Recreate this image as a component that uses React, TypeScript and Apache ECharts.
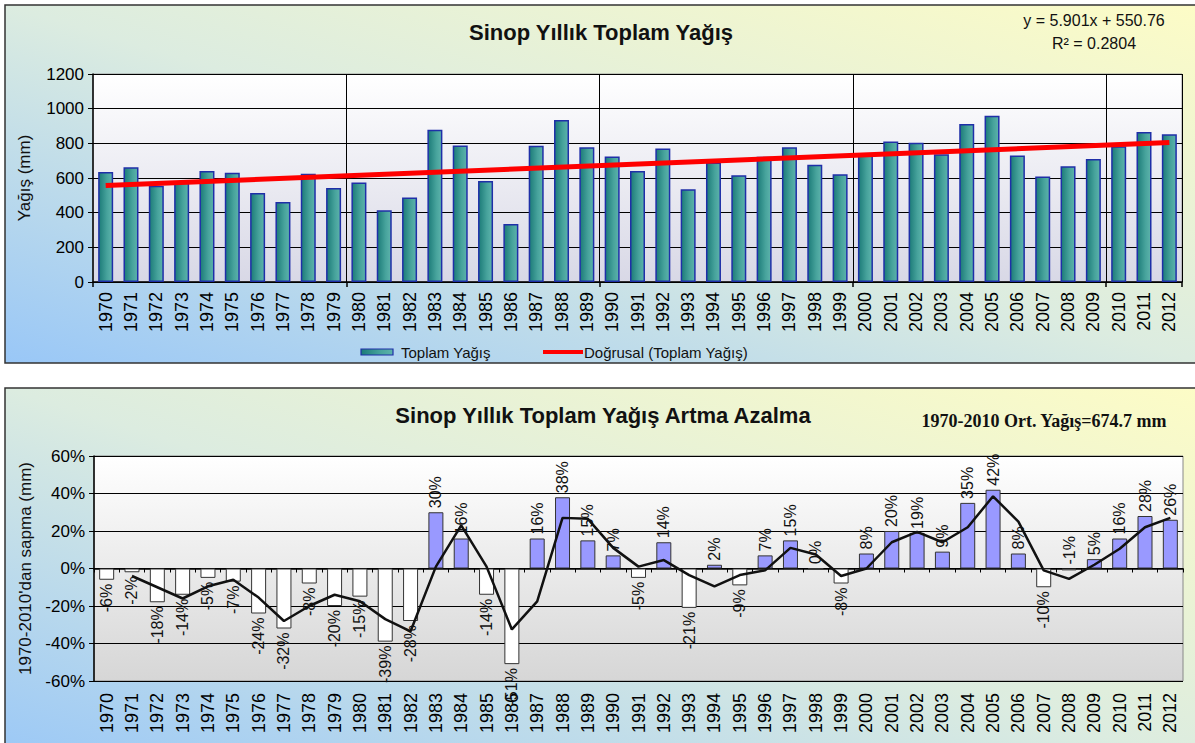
import React, { useEffect, useRef } from "react";
import * as echarts from "echarts";

const FONT = "'Liberation Sans', Arial, sans-serif";

const years = [
  "1970", "1971", "1972", "1973", "1974", "1975", "1976", "1977", "1978", "1979",
  "1980", "1981", "1982", "1983", "1984", "1985", "1986", "1987", "1988", "1989",
  "1990", "1991", "1992", "1993", "1994", "1995", "1996", "1997", "1998", "1999",
  "2000", "2001", "2002", "2003", "2004", "2005", "2006", "2007", "2008", "2009",
  "2010", "2011", "2012",
];

// Toplam Yağış (mm)
const rainfall = [
  634, 662, 555, 578, 641, 630, 514, 461, 624, 542,
  574, 414, 488, 878, 788, 582, 334, 786, 934, 777,
  724, 641, 770, 535, 690, 616, 722, 778, 676, 621,
  730, 810, 804, 737, 912, 959, 730, 609, 668, 710,
  783, 866, 852,
];

// Doğrusal trend endpoints (1970, 2012)
const trendStart = 556.7;
const trendEnd = 804.5;

// Artma / azalma (%)
const deviation = [
  -6, -2, -18, -14, -5, -7, -24, -32, -8, -20,
  -15, -39, -28, 30, 16, -14, -51, 16, 38, 15,
  7, -5, 14, -21, 2, -9, 7, 15, 0, -8,
  8, 20, 19, 9, 35, 42, 8, -10, -1, 5,
  16, 28, 26,
];

// label drawn above the zero line although the value is negative
const labelAboveYears = ["2008"];

// black line
const deviationLine = [
  null, -4, -10, -16, -9.5, -6, -15.5, -28, -20, -14,
  -17.5, -27, -33.5, 1, 23, 1, -32.5, -17.5, 27, 26.5,
  11, 1, 4.5, -3.5, -9.5, -3.5, -1, 11, 7.5, -4,
  0, 14, 19.5, 14, 22, 38.5, 25, -1, -5.5, 2,
  10.5, 22, 27,
];

export default function App() {
  const ref = useRef<HTMLDivElement>(null);

  useEffect(() => {
    if (!ref.current) return;
    const chart = echarts.init(ref.current, null, { renderer: "svg" });

    const outerGrad = () =>
      new echarts.graphic.LinearGradient(0, 1, 1, 0, [
        { offset: 0, color: "#99c7f7" },
        { offset: 0.5, color: "#dcece0" },
        { offset: 1, color: "#fdfcc6" },
      ]);
    const barGrad = () =>
      new echarts.graphic.LinearGradient(0, 0, 1, 0, [
        { offset: 0, color: "#1c7b78" },
        { offset: 0.6, color: "#47a39c" },
        { offset: 1, color: "#5db3ab" },
      ]);

    const devData = deviation.map((v, i) => {
      const above = v >= 0 || labelAboveYears.includes(years[i]);
      return {
        value: v,
        itemStyle: { color: v >= 0 ? "#9999ff" : "#ffffff" },
        label: above
          ? { position: "top", align: "left", verticalAlign: "middle" }
          : { position: "bottom", align: "right", verticalAlign: "middle" },
      };
    });

    const option: any = {
      animation: false,
      textStyle: { fontFamily: FONT },
      graphic: [
        {
          type: "rect", z: -100, silent: true,
          shape: { x: 5, y: 5, width: 1200, height: 358 },
          style: { fill: outerGrad(), stroke: "#333", lineWidth: 1.5 },
        },
        {
          type: "rect", z: -100, silent: true,
          shape: { x: 5, y: 388, width: 1200, height: 380 },
          style: { fill: outerGrad(), stroke: "#333", lineWidth: 1.5 },
        },
        {
          type: "text", x: 601, y: 32,
          style: { text: "Sinop Yıllık Toplam Yağış", font: `bold 22px ${FONT}`, fill: "#111", align: "center", verticalAlign: "middle" },
        },
        {
          type: "text", x: 1094, y: 20,
          style: { text: "y = 5.901x + 550.76", font: `16px ${FONT}`, fill: "#111", align: "center", verticalAlign: "middle" },
        },
        {
          type: "text", x: 1094, y: 43,
          style: { text: "R² = 0.2804", font: `16px ${FONT}`, fill: "#111", align: "center", verticalAlign: "middle" },
        },
        {
          type: "rect", shape: { x: 361, y: 349, width: 32, height: 6 },
          style: { fill: barGrad(), stroke: "#1f2fa8", lineWidth: 1.2 },
        },
        {
          type: "text", x: 401, y: 352,
          style: { text: "Toplam Yağış", font: `15px ${FONT}`, fill: "#111", align: "left", verticalAlign: "middle" },
        },
        {
          type: "line", shape: { x1: 543, y1: 352, x2: 583, y2: 352 },
          style: { stroke: "#ff0000", lineWidth: 4 },
        },
        {
          type: "text", x: 584, y: 352,
          style: { text: "Doğrusal (Toplam Yağış)", font: `15px ${FONT}`, fill: "#111", align: "left", verticalAlign: "middle" },
        },
        {
          type: "text", x: 603, y: 415,
          style: { text: "Sinop Yıllık Toplam Yağış Artma Azalma", font: `bold 22px ${FONT}`, fill: "#111", align: "center", verticalAlign: "middle" },
        },
        {
          type: "text", x: 1044, y: 421,
          style: { text: "1970-2010 Ort. Yağış=674.7 mm", font: `bold 18px 'Liberation Serif', 'Times New Roman', serif`, fill: "#111", align: "center", verticalAlign: "middle" },
        },
      ],
      grid: [
        {
          left: 93, top: 74, width: 1089, height: 208, show: true,
          backgroundColor: new echarts.graphic.LinearGradient(0, 0, 0, 1, [
            { offset: 0, color: "#ffffff" },
            { offset: 1, color: "#d8d8e6" },
          ]),
          borderColor: "#9a9a9a", borderWidth: 1,
        },
        {
          left: 94, top: 456, width: 1089, height: 225, show: true,
          backgroundColor: new echarts.graphic.LinearGradient(0, 0, 0, 1, [
            { offset: 0, color: "#ffffff" },
            { offset: 1, color: "#d6d6d6" },
          ]),
          borderColor: "#888888", borderWidth: 1,
        },
      ],
      xAxis: [
        {
          gridIndex: 0, type: "category", data: years,
          axisLine: { show: true, lineStyle: { color: "#000", width: 1.5 } },
          axisTick: { show: true, interval: (i: number) => i % 10 === 0, length: 5, lineStyle: { color: "#000", width: 1.5 } },
          splitLine: { show: true, interval: (i: number) => i % 10 === 0 && i > 0, lineStyle: { color: "#000", width: 1 } },
          axisLabel: { rotate: 90, interval: 0, fontSize: 18, color: "#000", margin: 10, fontFamily: FONT },
        },
        {
          gridIndex: 1, type: "category", data: years, position: "bottom",
          axisLine: { show: false, onZero: false },
          axisTick: { show: false },
          axisLabel: { rotate: 90, interval: 0, fontSize: 18, color: "#000", margin: 12, fontFamily: FONT },
        },
        {
          gridIndex: 1, type: "category", data: years, position: "top",
          axisLine: { show: true, onZero: true, lineStyle: { color: "#000", width: 1.5 } },
          axisTick: { show: true, inside: true, interval: 0, length: 4, lineStyle: { color: "#000" } },
          axisLabel: { show: false },
        },
      ],
      yAxis: [
        {
          gridIndex: 0, type: "value", min: 0, max: 1200, interval: 200,
          axisLine: { show: true, lineStyle: { color: "#000", width: 1.5 } },
          axisTick: { show: true, length: 5, lineStyle: { color: "#000" } },
          splitLine: { show: true, lineStyle: { color: "#000", width: 1 } },
          axisLabel: { fontSize: 17, color: "#000", margin: 9, fontFamily: FONT, formatter: (v: number) => String(v) },
          name: "Yağış (mm)", nameLocation: "middle", nameGap: 60,
          nameTextStyle: { fontSize: 17, color: "#111", fontFamily: FONT },
        },
        {
          gridIndex: 1, type: "value", min: -60, max: 60, interval: 20,
          axisLine: { show: true, lineStyle: { color: "#000", width: 1.5 } },
          axisTick: { show: true, length: 5, lineStyle: { color: "#000" } },
          splitLine: { show: true, lineStyle: { color: "#000", width: 1 } },
          axisLabel: { fontSize: 17, color: "#000", margin: 9, fontFamily: FONT, formatter: "{value}%" },
          name: "1970-2010'dan sapma (mm)", nameLocation: "middle", nameGap: 60,
          nameTextStyle: { fontSize: 17, color: "#111", fontFamily: FONT },
        },
      ],
      series: [
        {
          name: "Toplam Yağış", type: "bar", xAxisIndex: 0, yAxisIndex: 0,
          data: rainfall, barWidth: 15,
          itemStyle: { color: barGrad(), borderColor: "#1f2fa8", borderWidth: 1.5 },
        },
        {
          name: "Doğrusal (Toplam Yağış)", type: "line", xAxisIndex: 0, yAxisIndex: 0,
          data: [[0, trendStart], [years.length - 1, trendEnd]],
          symbol: "none", lineStyle: { color: "#ff0000", width: 5 }, z: 5,
        },
        {
          name: "Artma Azalma", type: "bar", xAxisIndex: 1, yAxisIndex: 1,
          data: devData, barWidth: 15,
          itemStyle: { borderColor: "#333", borderWidth: 1 },
          label: { show: true, rotate: 90, fontSize: 16, color: "#111", distance: 4, formatter: "{c}%", fontFamily: FONT },
        },
        {
          name: "Ortalama", type: "line", xAxisIndex: 1, yAxisIndex: 1,
          data: deviationLine, symbol: "none",
          lineStyle: { color: "#111", width: 2.5 }, z: 5,
        },
      ],
    };

    chart.setOption(option);
    return () => chart.dispose();
  }, []);

  return (
    <div
      ref={ref}
      style={{ position: "absolute", left: 0, top: 0, width: 1195, height: 743 }}
    />
  );
}
